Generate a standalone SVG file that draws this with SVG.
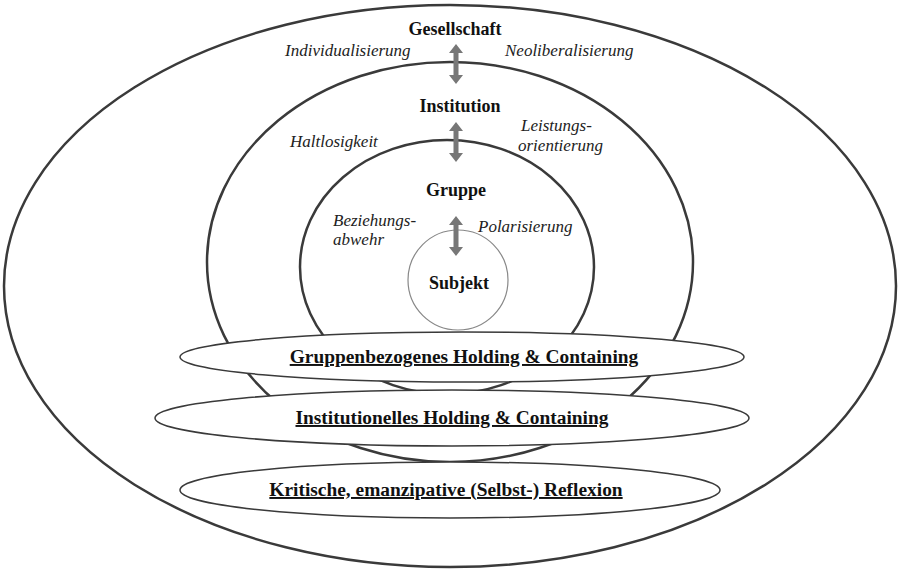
<svg xmlns="http://www.w3.org/2000/svg" width="900" height="571" viewBox="0 0 900 571">
<defs>
<style>
.e{fill:none;stroke:#3a3a3a;stroke-width:2.5}
.b{fill:#fff;stroke:#3a3a3a;stroke-width:1.5}
.t{font-family:"Liberation Serif","Times New Roman",serif;font-weight:bold;font-size:18px;fill:#111;text-anchor:middle}
.u{font-size:19.4px;text-decoration:underline}
.i{font-family:"Liberation Serif","Times New Roman",serif;font-style:italic;font-size:17px;fill:#222}
.a{fill:#777;stroke:none}
</style>
<g id="arrow"><path class="a" d="M0,-20 L7,-11 L2.5,-11 L2.5,11 L7,11 L0,20 L-7,11 L-2.5,11 L-2.5,-11 L-7,-11 Z"/></g>
</defs>
<rect width="900" height="571" fill="#fff"/>
<g id="gesellschaft"><ellipse class="e" cx="450" cy="286" rx="446" ry="281" stroke-width="3"/><text class="t" x="455" y="35">Gesellschaft</text></g>
<g id="institution"><ellipse class="e" cx="450" cy="262" rx="243" ry="200"/><text class="t" x="460" y="112">Institution</text></g>
<g id="gruppe"><ellipse class="e" cx="447" cy="267" rx="147" ry="127"/><text class="t" x="456" y="196">Gruppe</text></g>
<g id="subjekt"><circle cx="458" cy="280" r="50" fill="#fff" stroke="#888" stroke-width="1.2"/><text class="t" x="459" y="289">Subjekt</text></g>
<g id="labels">
<text class="i" x="285" y="56">Individualisierung</text>
<text class="i" x="505" y="56">Neoliberalisierung</text>
<text class="i" x="290" y="147">Haltlosigkeit</text>
<text class="i" x="521" y="131">Leistungs-</text>
<text class="i" x="518" y="151">orientierung</text>
<text class="i" x="333" y="226">Beziehungs-</text>
<text class="i" x="333" y="245">abwehr</text>
<text class="i" x="478" y="232">Polarisierung</text>
</g>
<g id="connectors">
<use href="#arrow" x="456" y="64"/>
<use href="#arrow" x="456" y="142"/>
<use href="#arrow" x="456" y="236"/>
</g>
<g id="holding1"><ellipse class="b" cx="462" cy="357" rx="282" ry="25"/><text class="t u" x="464" y="363">Gruppenbezogenes Holding &amp; Containing</text></g>
<g id="holding2"><ellipse class="b" cx="452" cy="418" rx="297" ry="28"/><text class="t u" x="452" y="424">Institutionelles Holding &amp; Containing</text></g>
<g id="reflexion"><ellipse class="b" cx="450" cy="490" rx="270" ry="28"/><text class="t u" x="446" y="496">Kritische, emanzipative (Selbst-) Reflexion</text></g>
</svg>
